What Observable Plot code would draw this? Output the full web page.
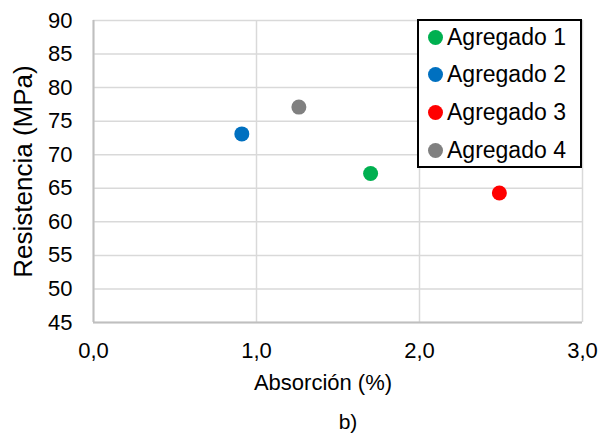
<!DOCTYPE html>
<html>
<head>
<meta charset="utf-8">
<script src="https://cdn.jsdelivr.net/npm/d3@7"></script>
<script src="https://cdn.jsdelivr.net/npm/@observablehq/plot@0.6"></script>
<style>
  body { margin: 0; background: #fff; font-family: "Liberation Sans", Arial, sans-serif; }
  #wrap { position: relative; width: 600px; height: 435px; }
  #legend { position: absolute; left: 417px; top: 19px; width: 161px; height: 145px;
            border: 2px solid #000; background: #fff; box-sizing: content-box; }
  .item { position: absolute; left: 0; height: 26px; display: flex; align-items: center;
          font-size: 23px; color: #000; white-space: nowrap; }
  .sw { width: 15px; height: 15px; border-radius: 50%; margin-left: 9px; margin-right: 4px; }
</style>
</head>
<body>
<div id="wrap"><div id="chart"></div><div id="legend"></div></div>
<script>
const series = ["Agregado 1", "Agregado 2", "Agregado 3", "Agregado 4"];
const absorcion = [1.70, 0.91, 2.49, 1.26];
const resistencia = [67.2, 73.1, 64.3, 77.1];
const colors = ["#00b050", "#0070c0", "#ff0000", "#808080"];
const xTicks = [0, 1, 2, 3];
const yTicks = [45, 50, 55, 60, 65, 70, 75, 80, 85, 90];
const xTitle = "Absorción (%)";
const yTitle = "Resistencia (MPa)";
const caption = "b)";

const data = series.map((s, i) => ({series: s, x: absorcion[i], y: resistencia[i]}));
const font = "'Liberation Sans', Arial, sans-serif";

const chart = Plot.plot({
  width: 600,
  height: 435,
  marginLeft: 93,
  marginRight: 18,
  marginTop: 20,
  marginBottom: 113,
  style: {fontFamily: font, fontSize: "22px", color: "#000", background: "#fff"},
  x: {domain: [0, 3]},
  y: {domain: [45, 90]},
  color: {domain: series, range: colors},
  marks: [
    Plot.gridX(xTicks, {stroke: "#d9d9d9", strokeOpacity: 1, strokeWidth: 1.5}),
    Plot.gridY(yTicks, {stroke: "#d9d9d9", strokeOpacity: 1, strokeWidth: 1.5}),
    Plot.ruleX([0], {stroke: "#bfbfbf", strokeWidth: 2}),
    Plot.ruleY([45], {stroke: "#bfbfbf", strokeWidth: 2}),
    Plot.axisX(xTicks, {tickSize: 0, tickPadding: 20, fontSize: 22, fill: "#000",
      tickFormat: d => d.toFixed(1).replace(".", ","), label: null}),
    Plot.axisY(yTicks, {tickSize: 0, tickPadding: 21, fontSize: 22, fill: "#000", label: null}),
    Plot.dot(data, {x: "x", y: "y", fill: "series", r: 7.5}),
    Plot.text([xTitle], {text: d => d, frameAnchor: "bottom", textAnchor: "middle", dx: -15, dy: 67, fontSize: 22, fill: "#000"}),
    Plot.text([yTitle], {text: d => d, frameAnchor: "left", textAnchor: "middle", rotate: -90, dx: -70, fontSize: 26, fill: "#000"}),
    Plot.text([caption], {text: d => d, frameAnchor: "bottom", textAnchor: "middle", dx: 10, dy: 106, fontSize: 21, fill: "#000"})
  ]
});
document.getElementById("chart").appendChild(chart);

const legend = document.getElementById("legend");
series.forEach((s, i) => {
  const it = document.createElement("div");
  it.className = "item";
  it.style.top = (3 + i * 37.7) + "px";
  const sw = document.createElement("span");
  sw.className = "sw";
  sw.style.background = colors[i];
  it.appendChild(sw);
  const t = document.createElement("span");
  t.textContent = s;
  it.appendChild(t);
  legend.appendChild(it);
});
</script>
</body>
</html>
